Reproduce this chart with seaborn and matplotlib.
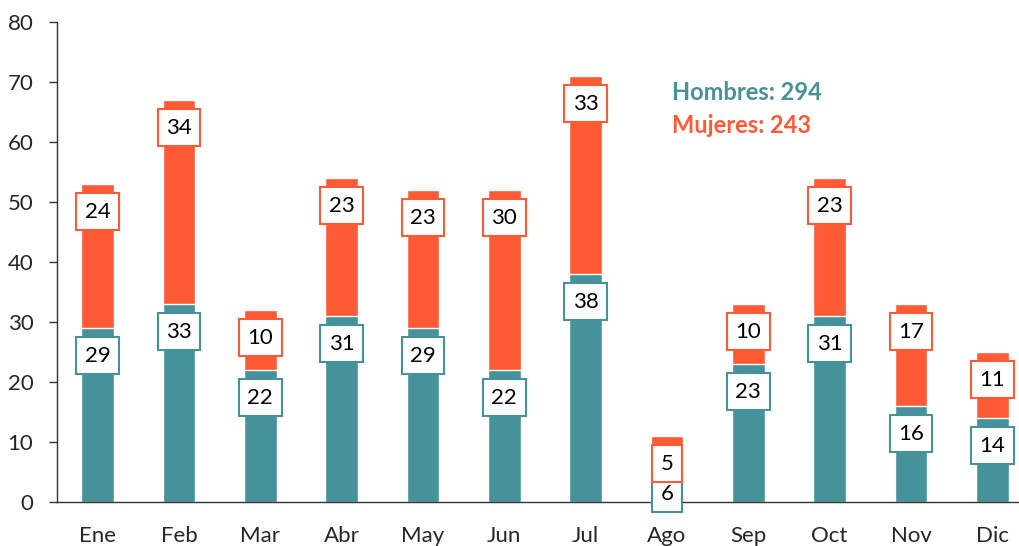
import numpy as np
import pandas as pd
import matplotlib
matplotlib.use("Agg")
import matplotlib.pyplot as plt
import seaborn as sns

# Data
meses = ["Ene", "Feb", "Mar", "Abr", "May", "Jun", "Jul", "Ago", "Sep", "Oct", "Nov", "Dic"]
hombres = [29, 33, 22, 31, 29, 22, 38, 6, 23, 31, 16, 14]
mujeres = [24, 34, 10, 23, 23, 30, 33, 5, 10, 23, 17, 11]

teal = "#45929B"
naranja = "#FF5A36"

df = pd.DataFrame({"Mes": meses, "Hombres": hombres, "Mujeres": mujeres})
df["Total"] = df["Hombres"] + df["Mujeres"]

sns.set_style("white")
plt.rcParams["font.family"] = ["Lato", "DejaVu Sans"]

fig = plt.figure(figsize=(10.2, 5.46), dpi=100)
ax = fig.add_axes([57 / 1020, 44 / 546, 976 / 1020, 480 / 546])

# stacked bars: total in orange, hombres on top of it in teal
sns.barplot(data=df, x="Mes", y="Total", color=naranja, width=0.4, saturation=1,
            edgecolor="white", linewidth=1, ax=ax)
sns.barplot(data=df, x="Mes", y="Hombres", color=teal, width=0.4, saturation=1,
            edgecolor="white", linewidth=1, ax=ax)

# value labels in boxes
for i, v in enumerate(df["Hombres"]):
    ax.annotate(str(v), (i, v), xytext=(0, -20), textcoords="offset points",
                ha="center", va="center", fontsize=16, color="black",
                annotation_clip=False, zorder=5,
                bbox=dict(boxstyle="square,pad=0.38", fc="white", ec=teal, lw=1.5))
for i, (v, t) in enumerate(zip(df["Mujeres"], df["Total"])):
    ax.annotate(str(v), (i, t), xytext=(0, -20), textcoords="offset points",
                ha="center", va="center", fontsize=16, color="black",
                annotation_clip=False, zorder=6,
                bbox=dict(boxstyle="square,pad=0.38", fc="white", ec=naranja, lw=1.5))

# legend-like totals
ax.text(7.06, 68.3, f"Hombres: {sum(hombres)}", color=teal, fontsize=17,
        fontweight="bold", ha="left", va="center")
ax.text(7.06, 62.7, f"Mujeres: {sum(mujeres)}", color=naranja, fontsize=17,
        fontweight="bold", ha="left", va="center")

# axes styling
ax.set_ylim(0, 80)
ax.set_xlim(-0.5, 11.5)
ax.set_yticks(range(0, 81, 10))
ax.set_xticks(range(12))
ax.set_xticklabels(meses)
ax.set_xticks(np.arange(-0.5, 12, 1), minor=True)
ax.set_xlabel("")
ax.set_ylabel("")
ax.tick_params(axis="x", which="major", length=0, pad=17, labelsize=16)
ax.tick_params(axis="x", which="minor", length=6, width=1, color="#333333", direction="out")
ax.tick_params(axis="y", length=6, width=1, color="#333333", pad=11, labelsize=16,
               left=True)
for s in ["top", "right"]:
    ax.spines[s].set_visible(False)
for s in ["left", "bottom"]:
    ax.spines[s].set_color("#333333")
    ax.spines[s].set_linewidth(1)

fig.savefig("out.png", dpi=100)
